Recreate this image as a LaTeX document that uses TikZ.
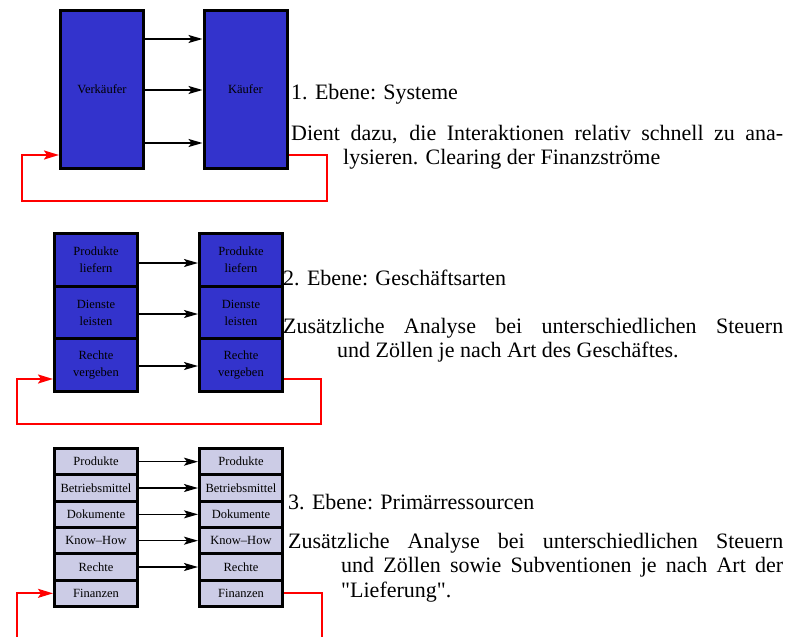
\documentclass[tikz,border=0pt]{standalone}
\usepackage{fontspec}
\setmainfont{Liberation Serif}
\usetikzlibrary{arrows.meta}
\definecolor{boxblue}{RGB}{51,51,204}
\definecolor{boxlav}{RGB}{204,204,230}
\definecolor{loopred}{RGB}{255,0,0}
\begin{document}
\begin{tikzpicture}[x=1pt,y=-1pt,
  box/.style={draw=black,line width=3pt,fill=boxblue,minimum width=83pt,inner sep=0pt,
    font=\fontsize{12.5}{17}\selectfont,align=center},
  lavbox/.style={box,fill=boxlav},
  arr/.style={line width=1.5pt,-{Stealth[length=14pt,width=8pt,inset=3pt]}},
  redline/.style={draw=loopred,line width=2pt},
  redarr/.style={redline,-{Stealth[length=15pt,width=9pt,inset=3pt]}},
  head/.style={anchor=base west,inner sep=0pt,font=\fontsize{22}{24.5}\selectfont},
  para/.style={anchor=base west,inner sep=0pt,align=justify,font=\fontsize{22}{24.5}\selectfont}]
\clip (0,0) rectangle (798,637);
\fill[white] (0,0) rectangle (798,637);

% ---------- Ebene 1 ----------
\node[box,minimum height=158pt] (v) at (102,89.5) {Verkäufer};
\node[box,minimum height=158pt] (k) at (245.5,89.5) {Käufer};
\foreach \yy in {39,90,143} \draw[arr] (v.east |- 0,\yy) -- (k.west |- 0,\yy);
\coordinate (a1) at (327,201);
\coordinate (b1) at (22,201);
\draw[redarr] (k.east |- 0,155) -| (a1) -- (b1) |- (v.west |- 0,155);
\node[head] (h1) at (291,99) {1. Ebene: Systeme};
\node[para,text width=492pt] (t1) at (291,140)
  {\hangindent=52pt\hangafter=1 Dient dazu, die Interaktionen relativ schnell zu ana-\linebreak lysieren. Clearing der Finanzströme\par};

% ---------- Ebene 2 ----------
\node[box,minimum height=52.67pt] (l1) at (96,259.83) {Produkte\\liefern};
\node[box,minimum height=52.67pt] (l2) at (96,312.5) {Dienste\\leisten};
\node[box,minimum height=52.67pt] (l3) at (96,365.17) {Rechte\\vergeben};
\node[box,minimum height=52.67pt] (r1) at (241,259.83) {Produkte\\liefern};
\node[box,minimum height=52.67pt] (r2) at (241,312.5) {Dienste\\leisten};
\node[box,minimum height=52.67pt] (r3) at (241,365.17) {Rechte\\vergeben};
\draw[arr] (l1.east |- 0,263) -- (r1.west |- 0,263);
\draw[arr] (l2.east |- 0,314) -- (r2.west |- 0,314);
\draw[arr] (l3.east |- 0,366) -- (r3.west |- 0,366);
\coordinate (a2) at (321,424);
\coordinate (b2) at (17,424);
\draw[redarr] (r3.east |- 0,379) -| (a2) -- (b2) |- (l3.west |- 0,379);
\node[head] (h2) at (283,285) {2. Ebene: Geschäftsarten};
\node[para,text width=500pt] (t2) at (283,333)
  {\hangindent=54pt\hangafter=1 Zusätzliche Analyse bei unterschiedlichen Steuern\linebreak und Zöllen je nach Art des Geschäftes.\par};

% ---------- Ebene 3 ----------
\node[lavbox,minimum height=26.33pt] (p1) at (96,461.67) {Produkte};
\node[lavbox,minimum height=26.33pt] (p2) at (96,488) {Betriebsmittel};
\node[lavbox,minimum height=26.33pt] (p3) at (96,514.33) {Dokumente};
\node[lavbox,minimum height=26.33pt] (p4) at (96,540.67) {Know--How};
\node[lavbox,minimum height=26.33pt] (p5) at (96,567) {Rechte};
\node[lavbox,minimum height=26.33pt] (p6) at (96,593.33) {Finanzen};
\node[lavbox,minimum height=26.33pt] (q1) at (241,461.67) {Produkte};
\node[lavbox,minimum height=26.33pt] (q2) at (241,488) {Betriebsmittel};
\node[lavbox,minimum height=26.33pt] (q3) at (241,514.33) {Dokumente};
\node[lavbox,minimum height=26.33pt] (q4) at (241,540.67) {Know--How};
\node[lavbox,minimum height=26.33pt] (q5) at (241,567) {Rechte};
\node[lavbox,minimum height=26.33pt] (q6) at (241,593.33) {Finanzen};
\foreach \i in {1,...,5} \draw[arr] (p\i.east) -- (q\i.west);
\coordinate (a3) at (322,640);
\coordinate (b3) at (17,640);
\draw[redline] (q6.east) -| (a3);
\draw[redarr] (b3) |- (p6.west);
\node[head] (h3) at (288,509) {3. Ebene: Primärressourcen};
\node[para,text width=495pt] (t3) at (288,548)
  {\hangindent=53pt\hangafter=1 Zusätzliche Analyse bei unterschiedlichen Steuern\linebreak und Zöllen sowie Subventionen je nach Art der\linebreak \textquotedbl Lieferung\textquotedbl.\par};
\end{tikzpicture}
\end{document}
